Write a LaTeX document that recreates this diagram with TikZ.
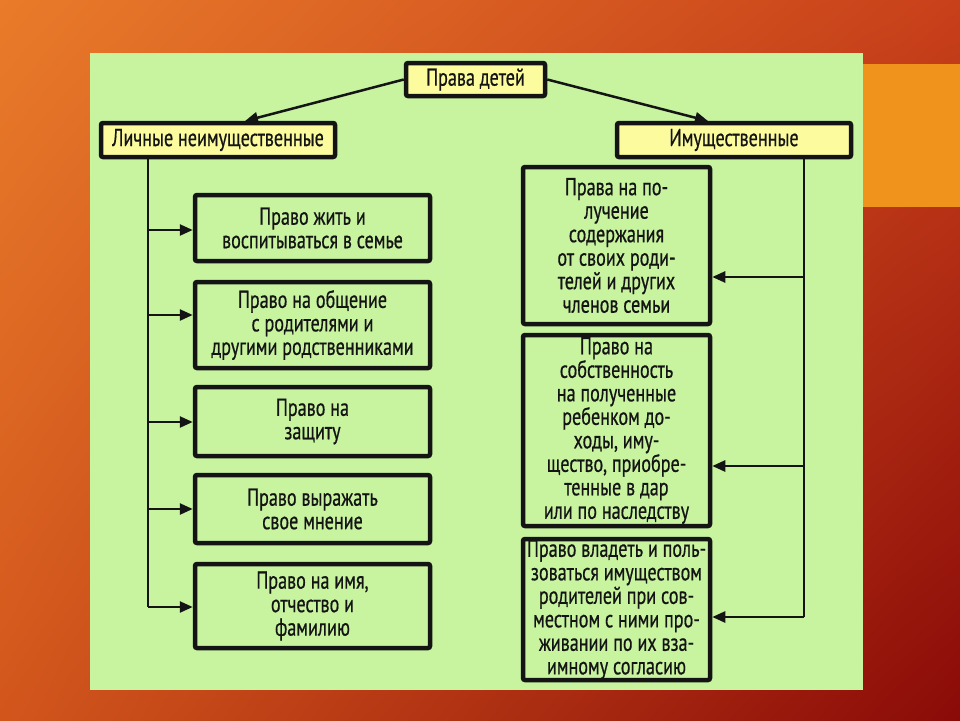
\documentclass[tikz,border=0pt]{standalone}
\usepackage{fontspec}
\setmainfont[FakeStretch=0.74, FakeBold=0.6]{PT Sans}
\usetikzlibrary{arrows.meta,shadings}
\definecolor{panel}{HTML}{C8F4A0}
\definecolor{ybox}{HTML}{FCFC9E}
\definecolor{ink}{HTML}{141414}
\definecolor{bgA}{HTML}{E97B2A}
\definecolor{bgB}{HTML}{C8401A}
\definecolor{bgC}{HTML}{D2561C}
\definecolor{bgD}{HTML}{8A0A08}
\definecolor{orangerect}{HTML}{EF931C}
\tikzset{
  boxbase/.style={draw=ink, line width=4.5pt, rounded corners=2pt, inner sep=1pt,
    align=center, text=ink, font=\fontsize{24.5}{23.5}\selectfont},
  greenbox/.style={boxbase, fill=panel},
  headbox/.style={boxbase, fill=ybox},
  conn/.style={draw=ink, line width=2.5pt},
  arr/.style={conn, -{Triangle[length=13pt,width=11pt]}},
}
\begin{document}
\begin{tikzpicture}[x=1pt,y=-1pt]
\useasboundingbox (0,0) rectangle (960,720);
\shade[upper left=bgA, upper right=bgB, lower left=bgC, lower right=bgD] (0,0) rectangle (960,720);
\fill[orangerect] (862,64) rectangle (960,207);
\fill[panel] (90,53) rectangle (863,690);

% header nodes
\node[headbox, minimum width=139pt, minimum height=33pt] (top) at (475.5,79.5) {Права детей};
\node[headbox, minimum width=234pt, minimum height=34pt] (lich) at (218,140) {Личные неимущественные};
\node[headbox, minimum width=234pt, minimum height=34pt] (imu) at (734,140) {Имущественные};

% left boxes
\node[greenbox, minimum width=235pt, minimum height=66pt] (l1) at (312.5,228) {Право жить и\\воспитываться в семье};
\node[greenbox, minimum width=235pt, minimum height=86pt] (l2) at (312.5,325) {Право на общение\\с родителями и\\другими родственниками};
\node[greenbox, minimum width=235pt, minimum height=69pt] (l3) at (312.5,421.5) {Право на\\защиту};
\node[greenbox, minimum width=235pt, minimum height=68pt] (l4) at (312.5,509) {Право выражать\\свое мнение};
\node[greenbox, minimum width=235pt, minimum height=84pt] (l5) at (312.5,606) {Право на имя,\\отчество и\\фамилию};

% right boxes
\node[greenbox, minimum width=187pt, minimum height=157pt] (r1) at (616.5,245.5) {Права на по-\\лучение\\содержания\\от своих роди-\\телей и других\\членов семьи};
\node[greenbox, minimum width=187pt, minimum height=191pt, inner sep=0pt] (r2) at (616.5,430.5) {Право на\\собственность\\на полученные\\ребенком до-\\ходы, иму-\\щество, приобре-\\тенные в дар\\или по наследству};
\node[greenbox, minimum width=187pt, minimum height=141pt, inner sep=0pt] (r3) at (616.5,609.5) {Право владеть и поль-\\зоваться имуществом\\родителей при сов-\\местном с ними про-\\живании по их вза-\\имному согласию};

% top arrows
\coordinate (lt) at (245,121);
\coordinate (rt) at (708,121);
\draw[arr] (top.west) -- (lt);
\draw[arr] (top.east) -- (rt);

% left trunk
\coordinate (lbot) at (148,607);
\draw[conn] (lich.south -| lbot) -- (lbot);
\foreach \n/\y in {l1/230, l2/315, l3/422, l4/509, l5/607}{
  \coordinate (la\n) at (148,\y);
  \draw[arr] (la\n) -- (la\n -| \n.west);
}

% right trunk
\coordinate (rbot) at (804,617);
\draw[conn] (imu.south -| rbot) -- (rbot);
\foreach \n/\y in {r1/277, r2/466, r3/617}{
  \coordinate (ra\n) at (804,\y);
  \draw[arr] (ra\n) -- (ra\n -| \n.east);
}
\end{tikzpicture}
\end{document}
